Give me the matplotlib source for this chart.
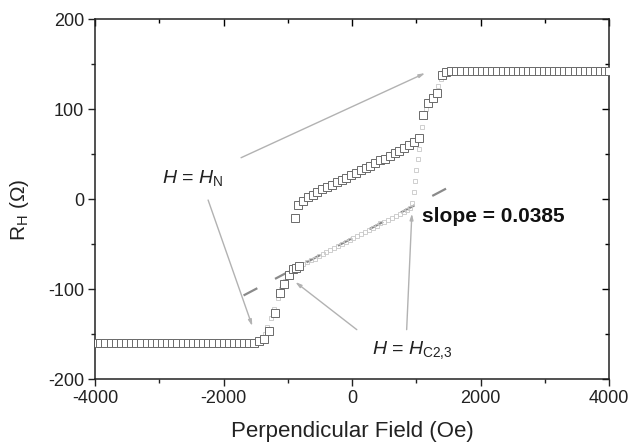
import matplotlib
matplotlib.use("Agg")
import matplotlib.pyplot as plt

plt.rcParams['font.family'] = ['Liberation Sans', 'DejaVu Sans']
plt.rcParams['mathtext.fontset'] = 'custom'
plt.rcParams['mathtext.rm'] = 'Liberation Sans'
plt.rcParams['mathtext.it'] = 'Liberation Sans:italic'
plt.rcParams['mathtext.bf'] = 'Liberation Sans:bold'
plt.rcParams['axes.unicode_minus'] = False

# ---- data: open-square branch ----
sq_x = [-4000, -3920, -3840, -3760, -3680, -3600, -3520, -3440, -3360, -3280,
        -3200, -3120, -3040, -2960, -2880, -2800, -2720, -2640, -2560, -2480,
        -2400, -2320, -2240, -2160, -2080, -2000, -1920, -1840, -1760, -1680,
        -1600, -1520,
        -1444, -1370, -1290, -1200, -1122, -1054, -979, -916, -870, -830,
        -889,
        -840, -765, -690, -615, -540, -465, -390, -315, -240, -165, -90, -15,
        60, 135, 210, 285, 360, 435, 510, 585, 660, 735, 810, 885, 960, 1040,
        1108, 1186, 1263, 1326, 1403, 1466,
        1540, 1620, 1700, 1780, 1860, 1940, 2020, 2100, 2180, 2260, 2340, 2420,
        2500, 2580, 2660, 2740, 2820, 2900, 2980, 3060, 3140, 3220, 3300, 3380,
        3460, 3540, 3620, 3700, 3780, 3860, 3940, 4000]
sq_y = [-160, -160, -160, -160, -160, -160, -160, -160, -160, -160,
        -160, -160, -160, -160, -160, -160, -160, -160, -160, -160,
        -160, -160, -160, -160, -160, -160, -160, -160, -160, -160,
        -160, -160,
        -158, -155, -147, -126, -104, -94, -84, -78, -76, -74,
        -21,
        -7, -2, 2, 5, 8, 11, 13, 16, 19, 21, 24, 27,
        29, 32, 35, 37, 40, 43, 45, 48, 51, 54, 57, 60, 63, 68,
        93, 107, 112, 118, 138, 141,
        142, 142, 142, 142, 142, 142, 142, 142, 142, 142, 142, 142,
        142, 142, 142, 142, 142, 142, 142, 142, 142, 142, 142, 142,
        142, 142, 142, 142, 142, 142, 142, 142]

# ---- data: faint small-dot branch ----
dot_x = [-1480, -1420, -1360, -1320, -1260, -1220, -1160, -1100, -1040, -980,
         -940, -880, -820, -760, -700, -640, -580, -520, -460, -400, -340,
         -280, -220, -160, -100, -40, 20, 80, 140, 200, 260, 320, 380, 440,
         500, 560, 620, 680, 740, 800, 860, 900,
         930, 960, 980, 1000, 1020, 1040, 1060, 1090, 1120, 1150, 1200, 1250,
         1300, 1340, 1380, 1420, 1460]
dot_y = [-160, -157, -150, -142, -132, -122, -110, -100, -91, -84,
         -79, -77, -75, -72, -70, -68, -66, -63, -61, -59, -57,
         -54, -52, -50, -48, -45, -43, -41, -39, -36, -34, -32, -30, -27,
         -25, -23, -21, -19, -16, -14, -12, -10,
         -4, 8, 20, 32, 45, 56, 66, 80, 92, 100, 106, 111,
         118, 126, 134, 139, 141]

# ---- fitted line (slope = 0.0385) ----
fit_x = [-1690, 1630]
fit_y = [-107, 18]

fig = plt.figure(figsize=(6.3, 4.44), dpi=100)
ax = fig.add_axes([0.151, 0.146, 0.816, 0.811])

ax.plot(fit_x, fit_y, color='#8a8a8a', lw=1.6, dashes=(7, 9), zorder=2)
ax.plot(dot_x, dot_y, ls='none', marker='s', ms=2.2, mfc='none',
        mec='#c8c8c8', mew=0.6, zorder=3)
ax.plot(sq_x, sq_y, ls='none', marker='s', ms=5.2, mfc='white',
        mec='#6a6a6a', mew=0.7, zorder=4)

ax.set_xlim(-4000, 4000)
ax.set_ylim(-200, 200)
ax.set_xticks([-4000, -2000, 0, 2000, 4000])
ax.set_yticks([-200, -100, 0, 100, 200])
ax.set_xticks([-3000, -1000, 1000, 3000], minor=True)
ax.set_yticks([-150, -50, 50, 150], minor=True)

ax.tick_params(which='both', direction='out', top=False, right=False,
               labelsize=13, colors='#222222', width=1.0)
ax.tick_params(which='major', length=5, pad=3)
ax.tick_params(which='minor', length=3)

ax2 = ax.secondary_xaxis('top')
ax2.set_xticks([-4000, -2000, 0, 2000, 4000])
ax2.set_xticks([-3000, -1000, 1000, 3000], minor=True)
ax2.tick_params(which='both', direction='in', labeltop=False, width=1.0)
ax2.tick_params(which='major', length=5)
ax2.tick_params(which='minor', length=3)
ax2.spines['top'].set_visible(False)
ax3 = ax.secondary_yaxis('right')
ax3.set_yticks([-200, -100, 0, 100, 200])
ax3.set_yticks([-150, -50, 50, 150], minor=True)
ax3.tick_params(which='both', direction='in', labelright=False, width=1.0)
ax3.tick_params(which='major', length=5)
ax3.tick_params(which='minor', length=3)
ax3.spines['right'].set_visible(False)

for s in ax.spines.values():
    s.set_linewidth(1.1)
    s.set_color('#222222')

ax.set_xlabel('Perpendicular Field (Oe)', fontsize=16, color='#222222',
              labelpad=10)
ax.set_ylabel('R$_\\mathrm{H}$ (Ω)', fontsize=15, color='#222222')
ax.yaxis.set_label_coords(-0.125, 0.47)

arrow_col = '#b2b2b2'
aprops = dict(arrowstyle='-|>,head_length=0.35,head_width=0.1',
              color=arrow_col, lw=1.0, shrinkA=0, shrinkB=0)
ax.annotate('', xy=(1135, 140), xytext=(-1729, 46), arrowprops=aprops, zorder=1)
ax.annotate('', xy=(-1554, -141), xytext=(-2242, -1), arrowprops=aprops, zorder=1)
ax.annotate('', xy=(-885, -92), xytext=(72, -145), arrowprops=aprops, zorder=1)
ax.annotate('', xy=(929, -16), xytext=(848, -145), arrowprops=aprops, zorder=1)

ax.text(-2960, 18, '$H$ = $H_{\\mathrm{N}}$', fontsize=14, color='#222222',
        va='baseline', ha='left')
ax.text(304, -172, '$H$ = $H_{\\mathrm{C2{,}3}}$', fontsize=14, color='#222222',
        va='baseline', ha='left')
ax.text(1085, -19, 'slope = 0.0385', fontsize=15, fontweight='bold',
        color='#111111', va='center', ha='left')

fig.savefig('out.png', dpi=100)
